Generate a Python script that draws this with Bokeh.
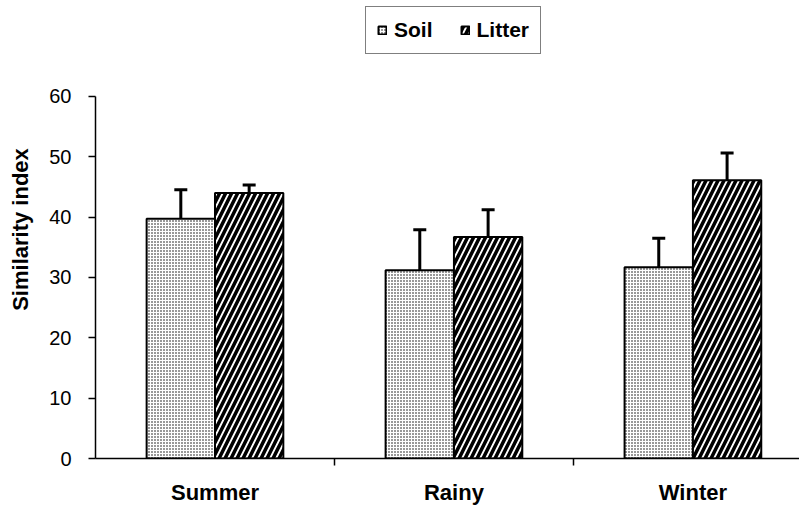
from bokeh.plotting import figure
from bokeh.models import Range1d, FixedTicker, Whisker, ColumnDataSource, Legend, LegendItem, TeeHead
from bokeh.embed import file_html
from bokeh.resources import INLINE

seasons = ["Summer", "Rainy", "Winter"]
soil = [39.7, 31.2, 31.7]
soil_err = [4.8, 6.7, 4.8]
litter = [44.0, 36.7, 46.1]
litter_err = [1.3, 4.5, 4.5]
y_ticks = [0, 10, 20, 30, 40, 50, 60]

centers = [i + 0.5 for i in range(len(seasons))]
off = 0.143
bw = 0.286

src_s = ColumnDataSource(dict(x=[c - off for c in centers], top=soil,
                              up=[v + e for v, e in zip(soil, soil_err)]))
src_l = ColumnDataSource(dict(x=[c + off for c in centers], top=litter,
                              up=[v + e for v, e in zip(litter, litter_err)]))

# frame spans full height above the axis so the legend is inside it; 60 sits 96px from top
y_top = 60 + 96 * 60 / 363.0

p = figure(width=799, height=507, output_backend="svg", toolbar_location=None,
           x_range=Range1d(0, 2.946), y_range=Range1d(0, y_top),
           min_border_left=95, min_border_right=0, min_border_top=0, min_border_bottom=48)
p.outline_line_color = None
p.xgrid.visible = False
p.ygrid.visible = False
p.background_fill_color = "white"

rs = p.vbar(x="x", top="top", width=bw, bottom=0, source=src_s,
            fill_color="white", line_color="black", line_width=2,
            hatch_pattern="dot", hatch_scale=3, hatch_weight=1.5, hatch_color="black")
rl = p.vbar(x="x", top="top", width=bw, bottom=0, source=src_l,
            fill_color="white", line_color="black", line_width=2,
            hatch_pattern="right_diagonal_line", hatch_scale=12, hatch_weight=3.5, hatch_color="black")

for src in (src_s, src_l):
    w = Whisker(base="x", upper="up", lower="top", source=src, dimension="height",
                line_width=3, line_color="black",
                upper_head=TeeHead(size=13, line_width=3, line_color="black"),
                lower_head=None)
    p.add_layout(w)

# y axis
p.yaxis.ticker = FixedTicker(ticks=y_ticks)
p.yaxis.bounds = (0, 60)
p.yaxis.axis_label = "Similarity index"
p.yaxis.axis_label_text_font = "Liberation Sans"
p.yaxis.axis_label_text_font_style = "bold"
p.yaxis.axis_label_text_font_size = "22px"
p.yaxis.axis_label_text_color = "black"
p.yaxis.axis_label_standoff = 13
p.yaxis.major_label_text_font = "Liberation Sans"
p.yaxis.major_label_text_font_size = "20px"
p.yaxis.major_label_text_color = "black"
p.yaxis.major_label_standoff = 17
p.yaxis.major_tick_out = 7
p.yaxis.major_tick_in = 0
p.yaxis.minor_tick_line_color = None
p.yaxis.axis_line_width = 1.5
p.yaxis.major_tick_line_width = 1.5
p.yaxis.axis_line_color = "black"

# x axis
p.xaxis.ticker = FixedTicker(ticks=centers, minor_ticks=[1, 2])
p.xaxis.major_label_overrides = {c: s for c, s in zip(centers, seasons)}
p.xaxis.major_tick_out = 0
p.xaxis.major_tick_in = 0
p.xaxis.minor_tick_out = 7
p.xaxis.minor_tick_in = 0
p.xaxis.minor_tick_line_width = 1.5
p.xaxis.minor_tick_line_color = "black"
p.xaxis.major_label_standoff = 14
p.xaxis.major_label_text_font = "Liberation Sans"
p.xaxis.major_label_text_font_style = "bold"
p.xaxis.major_label_text_font_size = "22px"
p.xaxis.major_label_text_color = "black"
p.xaxis.axis_line_width = 1.5
p.xaxis.axis_line_color = "black"

legend = Legend(items=[LegendItem(label="Soil", renderers=[rs]),
                       LegendItem(label="Litter", renderers=[rl])],
                location=(270, 404), orientation="horizontal")
legend.label_text_font = "Liberation Sans"
legend.label_text_font_style = "bold"
legend.label_text_font_size = "21px"
legend.label_text_color = "black"
legend.glyph_width = 10
legend.glyph_height = 10
legend.label_standoff = 7
legend.spacing = 27
legend.padding = 11
legend.margin = 0
legend.border_line_color = "black"
legend.border_line_width = 1
legend.background_fill_alpha = 1
p.add_layout(legend, "center")

open("out.html", "w").write(file_html(p, INLINE))
